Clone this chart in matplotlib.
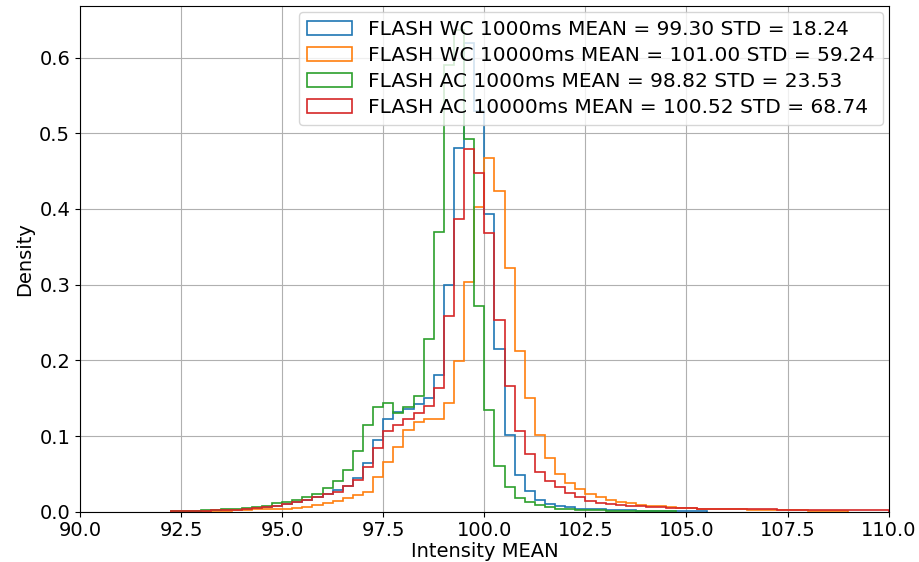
import numpy as np
import matplotlib
matplotlib.use("Agg")
import matplotlib.pyplot as plt
from matplotlib.ticker import FormatStrFormatter

# bin edges of the histograms (0.25 wide, 90 -> 110)
bin_edges = np.arange(90.0, 110.0001, 0.25)

# density per bin
wc_1000 = [0, 0, 0, 0, 0, 0, 0, 0, 0, 0.001,
           0.001, 0.001, 0.0015, 0.002, 0.002, 0.0026, 0.0035, 0.0044, 0.0057, 0.0075,
           0.010, 0.013, 0.016, 0.020, 0.024, 0.029, 0.034, 0.044, 0.065, 0.095,
           0.123, 0.132, 0.136, 0.142, 0.150, 0.180, 0.300, 0.480, 0.620, 0.530,
           0.394, 0.215, 0.101, 0.048, 0.028, 0.016, 0.010, 0.008, 0.006, 0.004,
           0.0035, 0.003, 0.0025, 0.002, 0.002, 0.0015, 0.0015, 0.001, 0.001, 0.001,
           0.0008, 0.0005, 0, 0, 0, 0, 0, 0, 0, 0,
           0, 0, 0, 0, 0, 0, 0, 0, 0, 0]

wc_10000 = [0, 0, 0, 0, 0, 0, 0, 0, 0, 0.0004,
            0.0005, 0.0008, 0.001, 0.001, 0.0015, 0.002, 0.0025, 0.003, 0.0035, 0.004,
            0.004, 0.005, 0.0066, 0.009, 0.012, 0.0145, 0.018, 0.022, 0.026, 0.046,
            0.066, 0.086, 0.108, 0.119, 0.123, 0.122, 0.144, 0.199, 0.304, 0.402,
            0.468, 0.424, 0.322, 0.213, 0.150, 0.101, 0.071, 0.050, 0.038, 0.030,
            0.024, 0.019, 0.016, 0.013, 0.011, 0.009, 0.008, 0.007, 0.006, 0.005,
            0.0045, 0.004, 0.0038, 0.0035, 0.003, 0.003, 0.0028, 0.0025, 0.0022, 0.002,
            0.002, 0.0018, 0.0015, 0.0015, 0.0012, 0.001, 0, 0, 0, 0]

ac_1000 = [0, 0, 0, 0, 0, 0, 0, 0, 0, 0.001,
           0.001, 0.0015, 0.002, 0.0025, 0.003, 0.004, 0.005, 0.006, 0.0075, 0.011,
           0.013, 0.015, 0.020, 0.024, 0.031, 0.040, 0.055, 0.080, 0.115, 0.138,
           0.143, 0.131, 0.139, 0.153, 0.228, 0.370, 0.590, 0.636, 0.492, 0.272,
           0.134, 0.061, 0.033, 0.018, 0.013, 0.009, 0.006, 0.004, 0.003, 0.0025,
           0.002, 0.002, 0.0015, 0.0015, 0.001, 0.001, 0.001, 0.001, 0.0008, 0,
           0, 0, 0, 0, 0, 0, 0, 0, 0, 0,
           0, 0, 0, 0, 0, 0, 0, 0, 0, 0]

ac_10000 = [0, 0, 0, 0, 0, 0, 0, 0, 0, 0.0008,
            0.001, 0.001, 0.0015, 0.002, 0.002, 0.0025, 0.0035, 0.0044, 0.0057, 0.0075,
            0.010, 0.013, 0.016, 0.020, 0.024, 0.026, 0.034, 0.042, 0.059, 0.084,
            0.106, 0.114, 0.123, 0.131, 0.140, 0.163, 0.258, 0.387, 0.479, 0.447,
            0.368, 0.253, 0.166, 0.106, 0.076, 0.053, 0.040, 0.033, 0.025, 0.020,
            0.014, 0.012, 0.010, 0.009, 0.008, 0.007, 0.006, 0.006, 0.005, 0.005,
            0.0045, 0.004, 0.004, 0.0038, 0.0035, 0.0035, 0.003, 0.003, 0.003, 0.0028,
            0.0028, 0.0025, 0.0025, 0.0025, 0.0022, 0.0022, 0.002, 0.002, 0.002, 0.002]

labels = ["FLASH WC 1000ms MEAN = 99.30 STD = 18.24",
          "FLASH WC 10000ms MEAN = 101.00 STD = 59.24",
          "FLASH AC 1000ms MEAN = 98.82 STD = 23.53",
          "FLASH AC 10000ms MEAN = 100.52 STD = 68.74"]

plt.rcParams['font.family'] = ['DejaVu Sans']
plt.rcParams['font.size'] = 14

fig = plt.figure(figsize=(9.19, 5.62), dpi=100)
ax = fig.add_axes([0.087, 0.0895, 0.88, 0.8995])

for vals, lab in zip([wc_1000, wc_10000, ac_1000, ac_10000], labels):
    vals = np.array(vals)
    nz = np.nonzero(vals)[0]
    lo, hi = nz[0], nz[-1] + 1
    # weights = density so the step outline follows the read values
    ax.hist(bin_edges[lo:hi], bins=bin_edges[lo:hi + 1], weights=vals[lo:hi],
            histtype='step', linewidth=1.2, label=lab)

ax.set_xlim(90, 110)
ax.set_ylim(0, 0.668)
ax.set_xticks(np.arange(90, 110.1, 2.5))
ax.xaxis.set_major_formatter(FormatStrFormatter('%.1f'))
ax.set_yticks(np.arange(0, 0.61, 0.1))
ax.yaxis.set_major_formatter(FormatStrFormatter('%.1f'))
ax.grid(True)
ax.set_xlabel("Intensity MEAN", labelpad=1)
ax.set_ylabel("Density")
ax.legend(loc='upper right', fontsize=14.5, labelspacing=0.35,
          handlelength=2.2, borderaxespad=0.3)

fig.savefig("out.png", dpi=100)
